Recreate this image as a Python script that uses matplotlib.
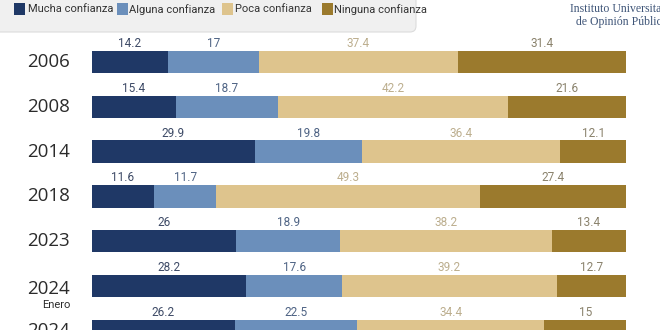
import matplotlib.pyplot as plt
from matplotlib.patches import Rectangle, FancyBboxPatch
import numpy as np

plt.rcParams['font.family'] = ['Open Sans', 'DejaVu Sans']

# Datos: confianza por año (%)
years = ['2006', '2008', '2014', '2018', '2023', '2024', '2024']
subtitles = ['', '', '', '', '', 'Enero', '']
mucha = [14.2, 15.4, 29.9, 11.6, 26, 28.2, 26.2]
alguna = [17, 18.7, 19.8, 11.7, 18.9, 17.6, 22.5]
poca = [37.4, 42.2, 36.4, 49.3, 38.2, 39.2, 34.4]
ninguna = [31.4, 21.6, 12.1, 27.4, 13.4, 12.7, 15]

series = [mucha, alguna, poca, ninguna]
names = ['Mucha confianza', 'Alguna confianza', 'Poca confianza', 'Ninguna confianza']
colors = ['#1f3866', '#6b8fbb', '#dec48d', '#9b7a2d']
label_colors = ['#3d4a66', '#4e6384', '#bcae8e', '#8a826c']
narrow = ['Roboto', 'DejaVu Sans']

fig = plt.figure(figsize=(6.6, 3.3), dpi=100)
ax = fig.add_axes([92 / 660, 0, (626 - 92) / 660, 290 / 330])

vals = np.array(series, dtype=float)
totals = vals.sum(axis=0)
shares = vals / totals * 100  # cada fila ocupa el ancho completo
y = np.arange(len(years))
h = 0.5

left = np.zeros(len(years))
for i in range(4):
    ax.barh(y, shares[i], left=left, height=h, color=colors[i], edgecolor='none')
    for j in range(len(years)):
        v = series[i][j]
        ax.text(left[j] + shares[i][j] / 2, y[j] - h / 2 - 0.02, f'{v:g}',
                ha='center', va='bottom', fontsize=8.5, color=label_colors[i],
                family=narrow)
    left += shares[i]

# etiquetas de año
for j, yr in enumerate(years):
    dy = 0.06 if subtitles[j] else 0
    ax.text(-0.041, y[j] + dy, yr, transform=ax.get_yaxis_transform(),
            ha='right', va='center', fontsize=13.5, color='#2b2b2b')
    if subtitles[j]:
        ax.text(-0.041, y[j] + 0.43, subtitles[j], transform=ax.get_yaxis_transform(),
                ha='right', va='center', fontsize=8, color='#2b2b2b', family=narrow)

ax.set_xlim(0, 100)
ax.set_ylim(5.98, -0.49)
ax.axis('off')

# capa superior en píxeles para la leyenda y el texto institucional
top = fig.add_axes([0, 0, 1, 1], zorder=5)
top.set_xlim(0, 660)
top.set_ylim(330, 0)
top.axis('off')
top.patch.set_alpha(0)

top.add_patch(FancyBboxPatch((-12, -14), 428, 46, boxstyle='round,pad=0,rounding_size=6',
                             facecolor='#f0f0f0', edgecolor='#dcdcdc', linewidth=0.8))
patch_x = [14, 117, 222, 322]
text_x = [28, 129, 235, 334]
for c, n, px, tx in zip(colors, names, patch_x, text_x):
    top.add_patch(Rectangle((px, 3), 11, 12, facecolor=c, edgecolor='none'))
    top.text(tx, 9.5, n, ha='left', va='center', fontsize=8, color='#333333', family=narrow)

top.text(622, 9, 'Instituto Universitario', ha='center', va='center',
         fontsize=8.5, color='#3f5578', family='Liberation Serif')
top.text(622, 22, 'de Opinión Pública', ha='center', va='center',
         fontsize=8.5, color='#3f5578', family='Liberation Serif')

fig.savefig('out.png', dpi=100)
